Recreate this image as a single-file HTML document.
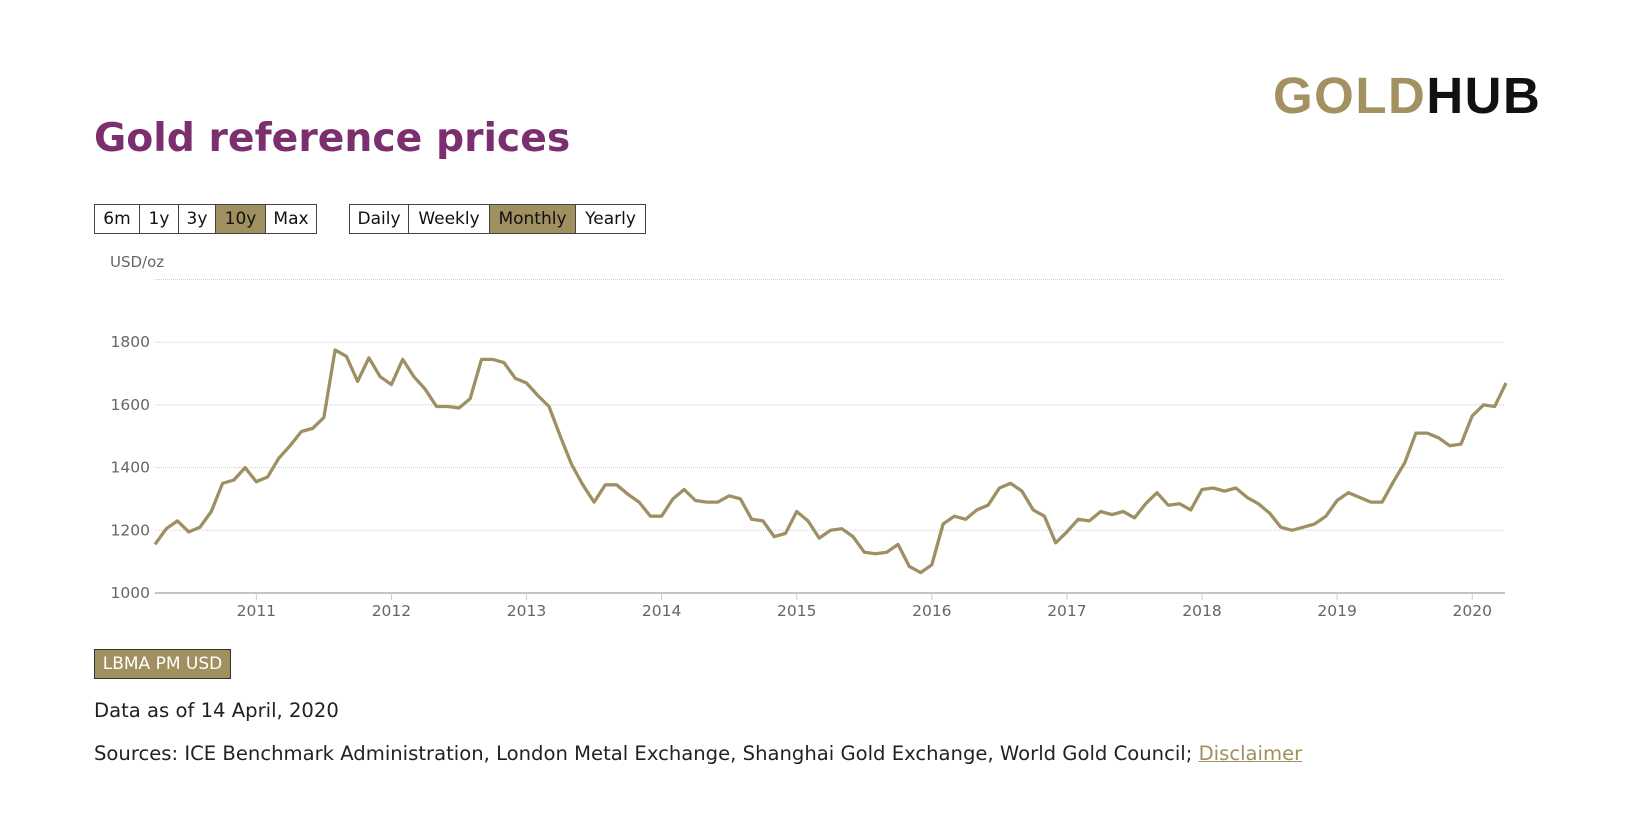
<!DOCTYPE html>
<html><head><meta charset="utf-8"><style>
body{margin:0;width:1641px;height:817px;background:#fff;font-family:"DejaVu Sans","Liberation Sans",sans-serif;position:relative;overflow:hidden}
.abs{position:absolute}
.btn{position:absolute;top:204px;height:30px;box-sizing:border-box;border:1px solid #444;font-size:17px;line-height:28px;text-align:center;color:#111;background:#fff}
.btn.on{background:#a08f5f}
</style></head><body>
<div class="abs" style="left:1273px;top:66px;font-family:'Liberation Sans',sans-serif;font-size:51px;font-weight:bold;letter-spacing:1.5px;line-height:60px"><span style="color:#a39161">GOLD</span><span style="color:#111">HUB</span></div>
<div class="abs" style="left:94px;top:116px;font-size:39.3px;font-weight:bold;color:#7b2f6e">Gold reference prices</div>

<div class="btn" style="left:94px;width:46px">6m</div>
<div class="btn" style="left:139px;width:40px">1y</div>
<div class="btn" style="left:178px;width:38px">3y</div>
<div class="btn on" style="left:215px;width:51px">10y</div>
<div class="btn" style="left:265px;width:52px">Max</div>
<div class="btn" style="left:349px;width:60px">Daily</div>
<div class="btn" style="left:408px;width:82px">Weekly</div>
<div class="btn on" style="left:489px;width:87px">Monthly</div>
<div class="btn" style="left:575px;width:71px">Yearly</div>

<svg id="chart" class="abs" style="left:0;top:0" width="1641" height="817"></svg>

<div class="abs" style="left:94px;top:649px;width:137px;height:30px;box-sizing:border-box;background:#a08f5f;border:1px solid #333;color:#fff;font-size:17px;line-height:28px;text-align:center">LBMA PM USD</div>
<div class="abs" style="left:94px;top:699px;font-size:19.6px;color:#222">Data as of 14 April, 2020</div>
<div class="abs" style="left:94px;top:742px;font-size:19.6px;color:#222">Sources: ICE Benchmark Administration, London Metal Exchange, Shanghai Gold Exchange, World Gold Council; <span style="color:#a08f5f;text-decoration:underline">Disclaimer</span></div>

<script>
const yTicks=[1000,1200,1400,1600,1800,2000];
const yearLabels=["2011","2012","2013","2014","2015","2016","2017","2018","2019","2020"];
const startYear=2010, startMonth=3; // April 2010 (0-based month)
const prices=[1155,1205,1230,1195,1210,1260,1350,1360,1400,
1355,1370,1430,1470,1515,1525,1560,1775,1755,1675,1750,1690,
1665,1745,1690,1650,1595,1595,1590,1620,1745,1745,1735,1685,
1670,1630,1595,1500,1410,1345,1290,1345,1345,1315,1290,1245,
1245,1300,1330,1295,1290,1290,1310,1300,1235,1230,1180,1190,
1260,1230,1175,1200,1205,1180,1130,1125,1130,1155,1085,1065,
1090,1220,1245,1235,1265,1280,1335,1350,1325,1265,1245,1160,
1195,1235,1230,1260,1250,1260,1240,1285,1320,1280,1285,1265,
1330,1335,1325,1335,1305,1285,1255,1210,1200,1210,1220,1245,
1295,1320,1305,1290,1290,1355,1415,1510,1510,1495,1470,1475,
1565,1600,1595,1670];
const NS="http://www.w3.org/2000/svg";
const svg=document.getElementById('chart');
const X0=155, PXM=135.1/12, XR=1505;
const x=m=>X0+m*PXM;
const y=v=>593-(v-1000)*0.3135;
function el(t,a,txt){const e=document.createElementNS(NS,t);for(const k in a)e.setAttribute(k,a[k]);if(txt!==undefined)e.textContent=txt;svg.appendChild(e);return e;}
const u=el('text',{x:110,y:267,'font-size':15,fill:'#666','font-family':'DejaVu Sans,sans-serif'},'USD/oz');


yTicks.forEach(v=>{
  const g=el('line',{x1:X0,x2:XR,y1:y(v),y2:y(v),stroke:v===1000?'#888':'#ccc','stroke-width':1,'stroke-dasharray':v===1000?'':'1,1'});
  
  
  if(v<2000){
    const t=el('text',{x:150,y:y(v)+5,'font-size':15.5,fill:'#666','text-anchor':'end','font-family':'DejaVu Sans,sans-serif'},String(v));
    
    
  }
});
yearLabels.forEach(s=>{
  const m=(parseInt(s)-startYear)*12-startMonth;
  const tk=el('line',{x1:x(m),x2:x(m),y1:593,y2:600,stroke:'#ccc'});
  
  
  const t=el('text',{x:x(m),y:616,'font-size':15.5,fill:'#666','text-anchor':'middle','font-family':'DejaVu Sans,sans-serif'},s);
  
  
});
const p=el('polyline',{points:prices.map((v,i)=>x(i).toFixed(1)+','+y(v).toFixed(1)).join(' '),fill:'none',stroke:'#9f9063','stroke-width':3.3,'stroke-linejoin':'round'});


</script>
</body></html>
